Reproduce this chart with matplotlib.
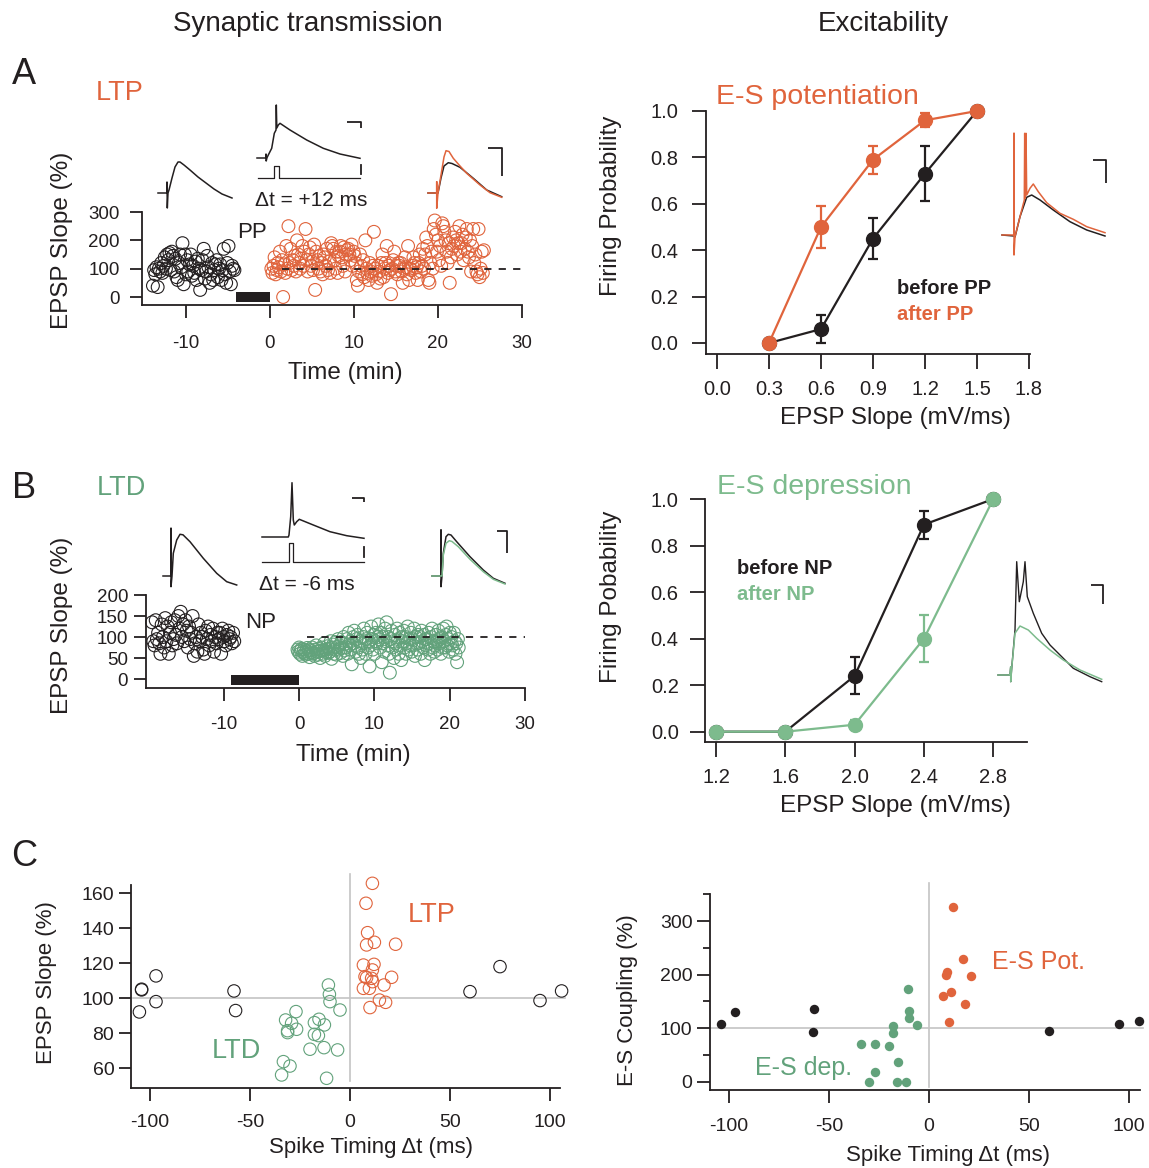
import numpy as np
import matplotlib
matplotlib.use("Agg")
import matplotlib.pyplot as plt

plt.rcParams['font.family'] = ['Liberation Sans', 'DejaVu Sans']
plt.rcParams['axes.unicode_minus'] = False

INK = '#231F20'
ORANGE = '#E0643C'
GREEN = '#62A27B'
GREEN_L = '#7DBB8D'
GRAY = '#C4C4C4'

# ---------------- data ----------------
# Panel A left: EPSP slope time course (LTP)
ltp_base_t = (-13.9, -4.2)
ltp_base = [40, 95, 80, 105, 35, 100, 90, 120, 85, 110,
            140, 100, 150, 130, 155, 95, 160, 145, 90, 135, 70,
            60, 120, 150, 105, 190, 45, 150, 80, 130, 90, 115,
            150, 75, 110, 85, 125, 60, 135, 100, 25, 95, 130,
            170, 65, 90, 145, 105, 50, 80, 120, 60, 95, 115,
            130, 70, 100, 115, 60, 95, 170, 80, 50, 120,
            180, 90, 45, 110, 100, 95]
ltp_after_t = (0.2, 25.5)
ltp_after = [100, 85, 110, 140, 80, 95, 120, 105,
             160, 90, 130, 0, 115, 85, 180, 100,
             250, 120, 170, 95, 130, 110, 145, 90,
             200, 150, 120, 100, 135, 180, 110, 160,
             240, 130, 90, 150, 175, 110, 125, 95,
             185, 25, 160, 130, 100, 145, 90, 120,
             80, 150, 140, 110, 170, 95, 125, 85,
             190, 180, 170, 130, 100, 160, 85, 145,
             160, 180, 140, 110, 175, 90, 150, 165,
             170, 150, 130, 185, 110, 160, 145, 120,
             60, 40, 90, 150, 110, 80, 130, 70,
             200, 100, 85, 60, 120, 90, 75, 110,
             230, 100, 80, 50, 110, 90, 65, 120,
             150, 70, 100, 120, 180, 85, 110, 95,
             10, 100, 130, 160, 90, 110, 80, 120,
             110, 120, 90, 50, 100, 140, 105, 80,
             180, 60, 100, 95, 110, 140, 120, 85,
             105, 60, 120, 150, 90, 110, 170, 100,
             150, 210, 180, 60, 50, 120, 160, 100,
             240, 270, 220, 160, 200, 130, 180, 110,
             260, 250, 230, 200, 160, 120, 190, 50,
             140, 170, 210, 180, 230, 200, 150, 190,
             250, 160, 190, 220, 130, 170, 210, 240,
             160, 140, 200, 90, 180, 240, 120, 150,
             90, 80, 240, 70, 100, 160, 85, 165]
pp_bar = (-4.0, 0.0)

# Panel B left: EPSP slope time course (LTD)
ltd_base_t = (-19.5, -8.6)
ltd_base = [135, 90, 80, 140, 95, 110, 85,
            60, 130, 100, 75, 145, 90, 125,
            60, 110, 135, 80, 95, 140, 105,
            85, 150, 120, 160, 100, 130, 90,
            140, 115, 75, 125, 95, 110, 150,
            55, 85, 100, 65, 130, 90, 110,
            100, 70, 60, 115, 95, 125, 80,
            105, 90, 120, 65, 100, 85, 110,
            95, 110, 60, 120, 100, 90, 80,
            105, 115, 95, 100, 85, 110, 90]
ltd_after_t = (-0.2, 21.2)
ltd_after = [70, 65, 75, 60, 68, 72, 55, 64, 70, 62,
             58, 66, 74, 60, 70, 52, 68, 63, 75, 60,
             62, 55, 70, 80, 65, 58, 72, 66, 50, 68,
             75, 60, 68, 85, 55, 70, 64, 78, 62, 72,
             65, 90, 48, 75, 82, 60, 70, 88, 58, 76,
             95, 70, 80, 62, 88, 74, 55, 100, 68, 84,
             75, 95, 60, 110, 80, 70, 90, 35, 85, 100,
             115, 80, 65, 95, 105, 75, 60, 90, 50, 85,
             70, 100, 120, 85, 60, 95, 110, 75, 90, 30,
             80, 125, 95, 70, 105, 60, 90, 110, 85, 100,
             130, 95, 75, 110, 40, 85, 100, 65, 120, 90,
             135, 80, 100, 60, 15, 95, 115, 75, 90, 50,
             105, 85, 70, 120, 95, 60, 110, 80, 45, 100,
             90, 115, 75, 100, 60, 85, 125, 70, 95, 80,
             110, 65, 95, 80, 120, 55, 100, 85, 70, 105,
             85, 100, 60, 115, 90, 75, 105, 45, 95, 80,
             95, 70, 110, 85, 60, 100, 120, 75, 90, 65,
             80, 105, 90, 70, 115, 85, 95, 60, 100, 75,
             120, 90, 75, 105, 125, 80, 95, 65, 110, 85,
             100, 80, 70, 110, 90, 60, 85, 40, 95, 75]
np_bar = (-9.0, 0.0)

# Panel A right: E-S potentiation
es_pot_x = [0.3, 0.6, 0.9, 1.2, 1.5]
es_pot_before = [0.0, 0.06, 0.45, 0.73, 1.0]
es_pot_before_err = [0.0, 0.06, 0.09, 0.12, 0.0]
es_pot_after = [0.0, 0.50, 0.79, 0.96, 1.0]
es_pot_after_err = [0.0, 0.09, 0.06, 0.03, 0.0]

# Panel B right: E-S depression
es_dep_x = [1.2, 1.6, 2.0, 2.4, 2.8]
es_dep_before = [0.0, 0.0, 0.24, 0.89, 1.0]
es_dep_before_err = [0.0, 0.0, 0.08, 0.06, 0.0]
es_dep_after = [0.0, 0.0, 0.03, 0.40, 1.0]
es_dep_after_err = [0.0, 0.0, 0.02, 0.10, 0.0]

# Panel C left: EPSP slope vs spike timing
c1_black_dt = [-104.2, -104.2, -97, -97, -105.3, -58, -57.2, 60, 75, 95, 105.8]
c1_black_val = [104.8, 105.2, 112.8, 98.1, 92.2, 104.2, 93, 103.8, 118.1, 98.7, 104.2]
c1_ltp_dt = [11.2, 8, 8.8, 8.3, 12.2, 22.8, 6.7, 12, 11.2, 7.5, 8.3, 10.8, 11.3, 20.8,
             6.7, 9.7, 17, 14.7, 17.8, 10]
c1_ltp_val = [165.7, 154.3, 137.5, 130.5, 132, 130.9, 119, 119.4, 116.2, 112.4, 111.8,
              111.4, 109.5, 112, 105.7, 105.7, 107.6, 99, 97.7, 94.7]
c1_ltd_dt = [-10.8, -10.3, -10, -5, -27, -32.2, -29.2, -31.2, -31.2, -26.7, -17.8, -15.5,
             -12.8, -17.8, -15.8, -20, -13, -6.2, -33.3, -30, -34.2, -11.7]
c1_ltd_val = [107.6, 102.3, 98.1, 93.3, 92.4, 87.6, 85.7, 81.5, 80.4, 82.3, 86.1, 88,
              84.8, 79.4, 78.7, 70.9, 71.8, 70.5, 63.8, 61.3, 56.2, 54.3]

# Panel C right: E-S coupling vs spike timing
c2_black_dt = [-104, -97, -57.5, -58.2, 60, 95, 104.7]
c2_black_val = [107, 130.7, 136.3, 92.7, 94, 107, 113.9]
c2_pot_dt = [11.7, 16.8, 8.8, 8.3, 21, 6.8, 11, 17.8, 10]
c2_pot_val = [326, 229.6, 204.7, 198.5, 197.3, 160, 167.4, 145.6, 112]
c2_dep_dt = [-10.5, -10.3, -10.3, -6.2, -18, -18, -34, -27, -20.2, -15.5, -27, -30.2,
             -16.2, -11.5]
c2_dep_val = [172.4, 132, 119.5, 105.8, 104.5, 91.5, 69.7, 71, 67.2, 37.3, 18.7, 0, 0, 0]

# example traces (ms, mV)
a1_t = [0, 4.5, 4.5, 4.65, 5, 5.5, 7, 8.5, 10, 11, 13, 16, 20, 24, 28, 32, 37]
a1_v = [0, 0, 1.1, -1.5, 0, 0.3, 1.5, 2.6, 3.1, 3.1, 2.8, 2.3, 1.6, 1.0, 0.4, -0.1, -0.5]
a2_t = [0, 4.5, 4.5, 4.6, 5, 5.65, 7.35, 8.65, 9.5, 9.65, 9.9, 10.65, 11.5, 16.5,
        24.85, 33.15, 41.5, 51.5]
a2_v = [0, 0, 0.4, -0.3, 0.03, 0.3, 0.97, 2.47, 2.8, 5.3, 3.0, 3.3, 3.47, 2.8, 1.8,
        0.97, 0.4, -0.03]
a2_cmd_t = [0.65, 8.5, 8.5, 11.15, 11.15, 51.5]
a2_cmd_v = [-2.03, -2.03, -0.8, -0.8, -2.03, -2.03]
a3_black_t = [0, 4.5, 5, 6.5, 8, 10.15, 12, 16, 22.65, 29.35, 36.85]
a3_black_v = [0, 0, 0, 1.5, 2.7, 3.03, 2.95, 2.57, 1.47, 0.3, -0.37]
a3_orange_t = [0, 4.35, 4.35, 4.35, 5, 6.5, 8, 9, 10.5, 12.65, 16, 19.35, 26, 31, 36.85]
a3_orange_v = [0, 0, 1.13, -1.53, 0, 1.8, 3.6, 4.23, 4.15, 3.47, 2.7, 1.97, 0.8, 0.03, -0.43]

b1_t = [0, 4, 4, 4, 4.5, 5.15, 6.85, 8.5, 10, 13.5, 20.15, 26.85, 31.85, 36.85]
b1_v = [0, 0, 4.77, -1.07, 0, 2.27, 3.6, 4.17, 4.12, 3.43, 1.77, 0.27, -0.57, -0.9]
b2_t = [0, 13.15, 13.5, 14.35, 15, 15.65, 16.15, 17.35, 18.65, 25.65, 34, 42.35, 51]
b2_v = [0, 0, 0.2, 2.03, 5.43, 1.7, 1.2, 1.53, 1.77, 1.2, 0.53, 0.13, -0.13]
b2_cmd_t = [0, 13.5, 13.5, 15.65, 15.65, 51]
b2_cmd_v = [-2.47, -2.47, -0.57, -0.57, -2.47, -2.47]
b3_black_t = [0, 4.5, 4.5, 4.5, 5, 5.65, 7, 8.15, 9.5, 12.35, 19, 25.65, 30.65, 36.5]
b3_black_v = [0, 0, 4.6, -1.07, 0, 2.27, 3.93, 4.17, 4.1, 3.43, 1.93, 0.6, -0.23, -0.73]
b3_green_t = [0, 4.5, 5, 5.65, 7, 8.65, 10, 13.15, 19, 25.65, 30.65, 36.5]
b3_green_v = [0, 0, 0, 2.1, 3.27, 3.53, 3.45, 2.93, 1.67, 0.43, -0.33, -0.8]

ra_black_t = [0, 6, 6.5, 9, 12.35, 14.85, 19, 25.65, 34, 42.35, 51.5]
ra_black_v = [0, -0.33, -0.67, 6.1, 12.57, 13.33, 11.67, 8.33, 4.43, 1.67, -0.33]
ra_orange_t = [0, 5.65, 6, 6, 6, 6.5, 9, 11.15, 11.35, 11.65, 12, 12.35, 14, 15.65,
               18.15, 22.35, 29, 35.65, 42.35, 51.5]
ra_orange_v = [0, 0, 0, 33.9, -6.67, -0.57, 6.1, 11.67, 33.9, 12.23, 33.9, 13.33, 15.57,
               17, 14.43, 10.77, 7.23, 5.23, 2.77, 0.77]
rb_black_t = [0, 6, 6.35, 6.35, 6.85, 8.5, 9.35, 10.65, 12.65, 13.5, 14.65, 17.65, 21.85,
              26, 31, 37.65, 46, 51.85]
rb_black_v = [0, 0, 2.77, -2.23, 2.23, 15, 37.77, 24.43, 31.1, 37.77, 26.1, 20.57, 13.9,
              10, 6.67, 2.23, -0.57, -2.23]
rb_green_t = [0, 6, 6.35, 6.35, 6.85, 8.5, 11, 15.15, 19.35, 26, 32.65, 41, 51.85]
rb_green_v = [0, 0, 2.77, -2.23, 2.23, 13.9, 16.33, 15, 12.23, 8.33, 5, 1.67, -1.43]

# ---------------- figure ----------------
W, H = 1149, 1168
fig = plt.figure(figsize=(W / 100, H / 100), dpi=100)


def rect(left, top, right, bottom):
    return [left / W, 1 - bottom / H, (right - left) / W, (bottom - top) / H]


def ptext(x, y, s, **kw):
    kw.setdefault('ha', 'center')
    kw.setdefault('va', 'center')
    kw.setdefault('color', INK)
    fig.text(x / W, 1 - y / H, s, **kw)


def place_axes(xref, yref, xlim, ylim):
    (xa, pa), (xb, pb) = xref
    sx = (pb - pa) / (xb - xa)
    (ya, qa), (yb, qb) = yref
    sy = (qb - qa) / (yb - ya)
    left = pa + (xlim[0] - xa) * sx
    right = pa + (xlim[1] - xa) * sx
    top = qa + (ylim[1] - ya) * sy
    bottom = qa + (ylim[0] - ya) * sy
    ax = fig.add_axes(rect(left, top, right, bottom))
    ax.set_xlim(xlim)
    ax.set_ylim(ylim)
    ax.patch.set_alpha(0)
    for s in ['top', 'right']:
        ax.spines[s].set_visible(False)
    for s in ['left', 'bottom']:
        ax.spines[s].set_linewidth(1.3)
        ax.spines[s].set_color(INK)
    return ax


def style_ticks(ax, fs, xpad, ypad, xlen=9, ylen=9):
    ax.tick_params(direction='out', width=1.3, color=INK, labelsize=fs, labelcolor=INK)
    ax.tick_params(axis='x', pad=xpad, length=xlen)
    ax.tick_params(axis='y', pad=ypad, length=ylen)


def trace_axes(x0, y0, xlim, ylim, sx, sy):
    ax = fig.add_axes(rect(x0 + xlim[0] * sx, y0 - ylim[1] * sy,
                           x0 + xlim[1] * sx, y0 - ylim[0] * sy))
    ax.set_xlim(xlim)
    ax.set_ylim(ylim)
    ax.axis('off')
    return ax


def scale_bar(ax, t_end, v_top, len_t, len_v):
    ax.plot([t_end - len_t, t_end, t_end], [v_top, v_top, v_top - len_v],
            color=INK, lw=1.3, clip_on=False, solid_capstyle='butt')


def open_scatter(ax, x, y, color, s=85):
    ax.scatter(x, y, s=s, facecolors='none', edgecolors=color, linewidths=0.8,
               clip_on=False, zorder=3)


LBL = 17.5

# ---- column titles / panel letters ----
ptext(308, 24, 'Synaptic transmission', fontsize=20)
ptext(883, 24, 'Excitability', fontsize=20)
ptext(24, 74, 'A', fontsize=26)
ptext(24, 488, 'B', fontsize=26)
ptext(24, 857, 'C', fontsize=26)

# ---- A left ----
ax = place_axes(((-10, 185.7), (30, 521.7)), ((0, 297), (300, 212)), (-15.2, 30), (-28, 300))
open_scatter(ax, np.linspace(*ltp_base_t, len(ltp_base)), ltp_base, INK)
open_scatter(ax, np.linspace(*ltp_after_t, len(ltp_after)), ltp_after, ORANGE)
ax.bar((pp_bar[0] + pp_bar[1]) / 2, 36, width=pp_bar[1] - pp_bar[0], bottom=-17, color=INK)
ax.plot([1.5, 30], [100, 100], ls=(0, (4, 4)), color=INK, lw=1.3, zorder=4)
ax.set_xticks([-10, 0, 10, 20, 30])
ax.set_yticks([0, 100, 200, 300])
style_ticks(ax, 13.5, 13, 7)
ptext(345, 373, 'Time (min)', fontsize=LBL)
ptext(62, 240, 'EPSP Slope (%)', fontsize=LBL, rotation=90)
ptext(120, 93, 'LTP', fontsize=19.5, color=ORANGE)
ptext(252, 233, 'PP', fontsize=16)
ptext(311, 201, 'Δt = +12 ms', fontsize=15)

# A traces
tx = trace_axes(158, 193, (-1, 56), (-3, 6), 2, 10)
tx.plot(a1_t, a1_v, color=INK, lw=1.1, clip_on=False)
tx = trace_axes(257, 158, (-1, 56), (-3, 6), 2, 10)
tx.plot(a2_t, a2_v, color=INK, lw=1.1, clip_on=False)
tx.plot(a2_cmd_t, a2_cmd_v, color=INK, lw=0.9, clip_on=False)
scale_bar(tx, 51.9, 3.63, 6.7, 0.66)
tx.plot([51.9, 51.9], [-0.7, -1.6], color=INK, lw=1.3)
tx = trace_axes(428, 193, (-1, 56), (-3, 6), 2, 10)
tx.plot(a3_black_t, a3_black_v, color=INK, lw=1.1, clip_on=False)
tx.plot(a3_orange_t, a3_orange_v, color=ORANGE, lw=1.1, clip_on=False)
scale_bar(tx, 37, 4.5, 7, 2.8)

# ---- B left ----
ax = place_axes(((-10, 223.7), (30, 525)), ((0, 679), (200, 595)), (-20.3, 30), (-21.4, 200))
open_scatter(ax, np.linspace(*ltd_base_t, len(ltd_base)), ltd_base, INK)
open_scatter(ax, np.linspace(*ltd_after_t, len(ltd_after)), ltd_after, GREEN)
ax.bar((np_bar[0] + np_bar[1]) / 2, 24, width=np_bar[1] - np_bar[0], bottom=-14, color=INK)
ax.plot([1.0, 30], [100, 100], ls=(0, (4, 4)), color=INK, lw=1.3, zorder=4)
ax.set_xticks([-10, 0, 10, 20, 30])
ax.set_yticks([0, 50, 100, 150, 200])
style_ticks(ax, 13.5, 11, 4)
ptext(353, 755, 'Time (min)', fontsize=LBL)
ptext(62, 625, 'EPSP Slope (%)', fontsize=LBL, rotation=90)
ptext(121, 488, 'LTD', fontsize=19.5, color=GREEN)
ptext(261, 622, 'NP', fontsize=16)
ptext(307, 584, 'Δt = -6 ms', fontsize=15)

# B traces
tx = trace_axes(163, 576, (-1, 56), (-3, 6), 2, 10)
tx.plot(b1_t, b1_v, color=INK, lw=1.1, clip_on=False)
tx = trace_axes(262, 537, (-1, 56), (-3, 6), 2, 10)
tx.plot(b2_t, b2_v, color=INK, lw=1.1, clip_on=False)
tx.plot(b2_cmd_t, b2_cmd_v, color=INK, lw=0.9, clip_on=False)
scale_bar(tx, 51, 3.87, 6.15, 0.34)
tx.plot([51, 51], [-0.97, -2.03], color=INK, lw=1.3)
tx = trace_axes(432, 576, (-1, 56), (-3, 6), 2, 10)
tx.plot(b3_black_t, b3_black_v, color=INK, lw=1.1, clip_on=False)
tx.plot(b3_green_t, b3_green_v, color=GREEN_L, lw=1.1, clip_on=False)
scale_bar(tx, 37.35, 4.53, 5, 2.26)


def io_curve(ax, x, y, err, color, ms=10):
    ax.errorbar(x, y, yerr=err, fmt='-o', color=color, ms=ms, lw=1.6,
                elinewidth=1.6, capsize=3.5, capthick=1.6, clip_on=False, zorder=3)


# ---- A right ----
ax = place_axes(((0, 717), (1.5, 977)), ((0, 343), (1, 111)), (-0.063, 1.806), (-0.047, 1.04))
ax.spines['left'].set_bounds(-0.047, 1.0)
io_curve(ax, es_pot_x, es_pot_before, es_pot_before_err, INK)
io_curve(ax, es_pot_x, es_pot_after, es_pot_after_err, ORANGE)
pot_xt = [0.0, 0.3, 0.6, 0.9, 1.2, 1.5, 1.8]
prob_yt = [0.0, 0.2, 0.4, 0.6, 0.8, 1.0]
ax.set_xticks(pot_xt)
ax.set_xticklabels([f'{v:.1f}' for v in pot_xt])
ax.set_yticks(prob_yt)
ax.set_yticklabels([f'{v:.1f}' for v in prob_yt])
style_ticks(ax, 14.5, 8, 10, 11, 10)
ptext(895, 418, 'EPSP Slope (mV/ms)', fontsize=LBL)
ptext(611, 206, 'Firing Probability', fontsize=LBL, rotation=90)
ptext(817, 97, 'E-S potentiation', fontsize=20.5, color=ORANGE)
ptext(897, 289, 'before PP', fontsize=14.5, weight='bold', ha='left')
ptext(897, 314, 'after PP', fontsize=14.5, weight='bold', ha='left', color=ORANGE)

tx = trace_axes(1002, 235, (-1, 56), (-8, 38), 2, 3)
tx.plot(ra_black_t, ra_black_v, color=INK, lw=1.1, clip_on=False)
tx.plot(ra_orange_t, ra_orange_v, color=ORANGE, lw=1.1, clip_on=False)
scale_bar(tx, 52, 25, 6.35, 7.8)

# ---- B right ----
ax = place_axes(((1.2, 716), (2.8, 993.3)), ((0, 731.7), (1, 499)), (1.137, 2.994), (-0.044, 1.04))
ax.spines['left'].set_bounds(-0.044, 1.0)
io_curve(ax, es_dep_x, es_dep_before, es_dep_before_err, INK)
io_curve(ax, es_dep_x, es_dep_after, es_dep_after_err, GREEN_L)
dep_xt = [1.2, 1.6, 2.0, 2.4, 2.8]
ax.set_xticks(dep_xt)
ax.set_xticklabels([f'{v:.1f}' for v in dep_xt])
ax.set_yticks(prob_yt)
ax.set_yticklabels([f'{v:.1f}' for v in prob_yt])
style_ticks(ax, 14.5, 8, 8, 11, 11)
ptext(895, 806, 'EPSP Slope (mV/ms)', fontsize=LBL)
ptext(611, 597, 'Firing Pobability', fontsize=LBL, rotation=90)
ptext(814, 487, 'E-S depression', fontsize=20.5, color=GREEN_L)
ptext(737, 569, 'before NP', fontsize=14.5, weight='bold', ha='left')
ptext(737, 595, 'after NP', fontsize=14.5, weight='bold', ha='left', color=GREEN_L)

tx = trace_axes(998, 675, (-1, 56), (-8, 38), 2, 3)
tx.plot(rb_black_t, rb_black_v, color=INK, lw=1.0, clip_on=False)
tx.plot(rb_green_t, rb_green_v, color=GREEN_L, lw=1.1, clip_on=False)
scale_bar(tx, 52.65, 30, 6.3, 6.33)

# ---- C left ----
ax = place_axes(((-100, 150), (100, 550)), ((60, 1068.3), (160, 893.3)), (-109.5, 105), (48.9, 171))
ax.spines['left'].set_bounds(48.9, 164.7)
ax.plot([-108.5, 107.5], [100, 100], color=GRAY, lw=1.2, clip_on=False, zorder=1)
ax.plot([0, 0], [52.6, 171], color=GRAY, lw=1.2, clip_on=False, zorder=1)
open_scatter(ax, c1_black_dt, c1_black_val, INK, s=80)
open_scatter(ax, c1_ltp_dt, c1_ltp_val, ORANGE, s=80)
open_scatter(ax, c1_ltd_dt, c1_ltd_val, GREEN, s=80)
ax.set_xticks([-100, -50, 0, 50, 100])
ax.set_yticks([60, 80, 100, 120, 140, 160])
style_ticks(ax, 14, 10, 3, 9, 9)
ptext(371, 1147, 'Spike Timing Δt (ms)', fontsize=16)
ptext(47, 983, 'EPSP Slope (%)', fontsize=16, rotation=90)
ptext(432, 915, 'LTP', fontsize=19.5, color=ORANGE)
ptext(236, 1051, 'LTD', fontsize=19.5, color=GREEN)

# ---- C right ----
ax = place_axes(((-100, 729), (100, 1129.3)), ((0, 1081.7), (300, 921)), (-109.5, 105.5), (-15.5, 371))
ax.spines['left'].set_bounds(-15.5, 350)
ax.plot([-109.5, 107], [100, 100], color=GRAY, lw=1.2, clip_on=False, zorder=1)
ax.plot([0, 0], [-9, 371], color=GRAY, lw=1.2, clip_on=False, zorder=1)
ax.plot(c2_black_dt, c2_black_val, 'o', color=INK, ms=6.8, mew=0, clip_on=False, zorder=3)
ax.plot(c2_pot_dt, c2_pot_val, 'o', color=ORANGE, ms=6.8, mew=0, clip_on=False, zorder=3)
ax.plot(c2_dep_dt, c2_dep_val, 'o', color=GREEN, ms=6.8, mew=0, clip_on=False, zorder=3)
ax.set_xticks([-100, -50, 0, 50, 100])
ax.set_yticks([0, 100, 200, 300])
ax.set_yticks([50, 150, 250, 350], minor=True)
style_ticks(ax, 14, 11, 3, 9, 9.5)
ax.tick_params(axis='y', which='minor', length=5, width=1.3, color=INK)
ptext(948, 1156, 'Spike Timing Δt (ms)', fontsize=16)
ptext(628, 1000, 'E-S Coupling (%)', fontsize=16, rotation=90)
ptext(1039, 962, 'E-S Pot.', fontsize=18, color=ORANGE)
ptext(804, 1068, 'E-S dep.', fontsize=18, color=GREEN)

fig.savefig('out.png', dpi=100)
